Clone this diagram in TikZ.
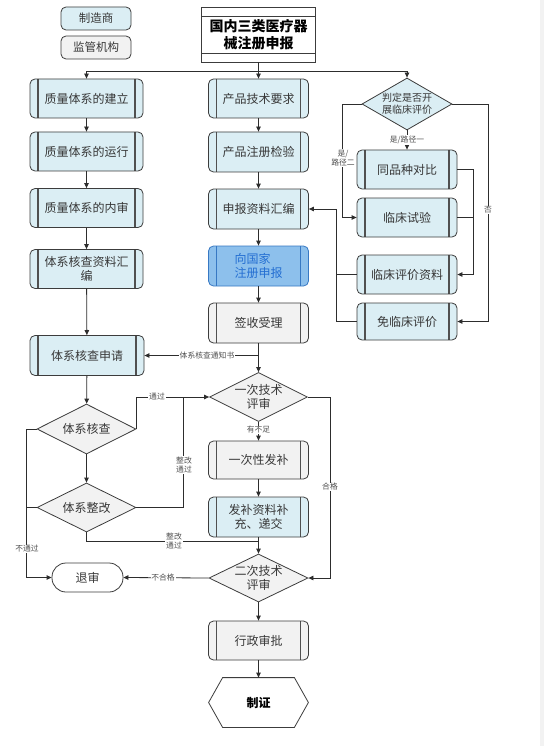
\documentclass[tikz,border=0pt]{standalone}
\usepackage{fontspec}
\setmainfont{Noto Sans CJK SC}
\usetikzlibrary{arrows.meta,shapes.geometric,calc}
\definecolor{lblue}{RGB}{219,238,244}
\definecolor{lgrey}{RGB}{242,242,242}
\definecolor{bdr}{RGB}{60,60,60}
\definecolor{pipec}{RGB}{80,80,80}
\definecolor{txt}{RGB}{55,55,55}
\definecolor{mblue}{RGB}{141,192,236}
\definecolor{dblue}{RGB}{55,120,195}
\definecolor{tblue}{RGB}{35,110,210}
\definecolor{labc}{RGB}{80,80,80}
\definecolor{lnc}{RGB}{45,45,45}
\tikzset{
  bx/.style={draw=bdr, line width=0.8pt, text=txt, font=\fontsize{12}{14.5}\selectfont, align=center, inner sep=1pt},
  proc/.style={bx, rounded corners=5pt, minimum width=100pt, minimum height=39pt,
    path picture={
      \draw[draw=#1, line width=1.4pt, sharp corners]
        ([xshift=8pt]path picture bounding box.north west) -- ([xshift=8pt]path picture bounding box.south west)
        ([xshift=-8pt]path picture bounding box.north east) -- ([xshift=-8pt]path picture bounding box.south east);}},
  proc/.default=pipec,
  pblue/.style={proc, fill=lblue},
  pgrey/.style={proc, fill=lgrey},
  pdeep/.style={proc=dblue, fill=mblue, draw=dblue, text=tblue},
  dia/.style={bx, diamond, inner sep=-9pt, minimum width=99pt, minimum height=49pt, fill=lgrey},
  small/.style={bx, rounded corners=5pt, minimum width=70pt, minimum height=23pt, font=\fontsize{11.5}{13}\selectfont},
  ttl/.style={draw=bdr, line width=0.9pt, minimum width=114pt, minimum height=55pt, align=center, text=black,
    font=\fontsize{14}{17}\selectfont\bfseries,
    path picture={
      \draw[bdr, line width=0.8pt]
        ([yshift=-9pt]path picture bounding box.north west) -- ([yshift=-9pt]path picture bounding box.north east)
        ([yshift=9pt]path picture bounding box.south west) -- ([yshift=9pt]path picture bounding box.south east);}},
  conn/.style={draw=lnc, line width=0.8pt},
  arr/.style={conn, -{Triangle[length=5pt,width=4.5pt]}},
  lab/.style={font=\fontsize{7.8}{8.8}\selectfont, text=labc, fill=white, inner sep=0.8pt, align=center},
}
\begin{document}
\begin{tikzpicture}[x=1pt,y=-1pt]
\useasboundingbox (0,0) rectangle (544,746);
\fill[white] (0,0) rectangle (544,746);
\fill[gray!10] (540,0) rectangle (544,746);

% legend
\node[small, fill=lblue] (leg1) at (96,18.5) {制造商};
\node[small, fill=lgrey] (leg2) at (96,47.5) {监管机构};

% title
\node[ttl] (title) at (258.5,34.5) {国内三类医疗器\\械注册申报};

% left column
\node[pblue, minimum width=113pt] (L1) at (86.5,98.5) {质量体系的建立};
\node[pblue, minimum width=113pt] (L2) at (86.5,151.5) {质量体系的运行};
\node[pblue, minimum width=113pt] (L3) at (86.5,208) {质量体系的内审};
\node[pblue, minimum width=113pt] (L4) at (86.5,269) {体系核查资料汇\\编};
\node[pblue, minimum width=114pt, minimum height=40pt] (L5) at (87,355.5) {体系核查申请};
\node[dia, minimum height=50pt] (LD1) at (86.5,429) {体系核查};
\node[dia] (LD2) at (86.5,507.5) {体系整改};
\node[bx, fill=white, rounded corners=14pt, minimum width=71pt, minimum height=29pt] (T) at (87.5,577.5) {退审};

% middle column
\node[pblue] (M1) at (258.5,98.5) {产品技术要求};
\node[pblue, minimum height=40pt] (M2) at (258.5,152) {产品注册检验};
\node[pblue, minimum height=40pt] (M3) at (258.5,209) {申报资料汇编};
\node[pdeep, minimum height=40pt, align=left] (M4) at (258.5,266) {向国家\\注册申报};
\node[pgrey, minimum height=40pt] (M5) at (258.5,323) {签收受理};
\node[dia, minimum width=98pt] (D1) at (258.5,397) {一次技术\\评审};
\node[pgrey, minimum height=38pt] (M6) at (258.5,460) {一次性发补};
\node[pblue, minimum height=40pt] (M7) at (258.5,517) {发补资料补\\充、递交};
\node[dia, minimum height=48pt] (D2) at (258.5,578) {二次技术\\评审};
\node[pgrey] (M8) at (258.5,640.5) {行政审批};
\node[bx, draw=none, minimum width=99pt, minimum height=49pt, text=black,
      font=\fontsize{12}{14}\selectfont\bfseries] (H) at (258.5,702.5) {制证};
\draw[bdr, line width=0.8pt] (H.west) -- ([xshift=14pt]H.north west) -- ([xshift=-14pt]H.north east)
   -- (H.east) -- ([xshift=-14pt]H.south east) -- ([xshift=14pt]H.south west) -- cycle;

% right column
\node[dia, fill=lblue, minimum width=90pt, minimum height=52pt, font=\fontsize{10}{12}\selectfont] (RD) at (407,104) {判定是否开\\展临床评价};
\node[pblue] (R1) at (407,169.5) {同品种对比};
\node[pblue] (R2) at (407,217.5) {临床试验};
\node[pblue] (R3) at (407,274.5) {临床评价资料};
\node[pblue, minimum height=37pt] (R4) at (407,321.5) {免临床评价};

% connectors
\coordinate (j0) at (258.5,71);
\coordinate (jm) at (258.5,541);
\draw[arr] (title.south) -- (M1.north);
\draw[arr] (j0) -| (L1.north);
\draw[arr] (j0) -| (RD.north);

\draw[arr] (L1) -- (L2);
\draw[arr] (L2) -- (L3);
\draw[arr] (L3) -- (L4);
\draw[arr] (L4) -- (L5);
\draw[arr] (L5) -- (LD1);
\draw[arr] (LD1) -- (LD2);

\draw[arr] (M1) -- (M2);
\draw[arr] (M2) -- (M3);
\draw[arr] (M3) -- (M4);
\draw[arr] (M4) -- (M5);
\draw[arr] (M5) -- (D1);
\draw[arr] (M5.south |- L5.east) -- (L5.east);
\draw[arr] (D1) -- (M6);
\draw[arr] (M6) -- (M7);
\draw[arr] (M7) -- (D2);
\draw[arr] (D2) -- (M8);
\draw[arr] (M8) -- (H);
\draw[arr] (D1.east) -| ($(D2.east)+(22,0)$) -- (D2.east);
\draw[arr] (D2.west) -- (T.east);

\draw[arr] (RD) -- (R1);
\draw[arr] (RD.west) -| ($(R2.west)+(-14,0)$) -- (R2.west);
\draw[arr] (RD.east) -| ($(R4.east)+(31,0)$) -- (R4.east);
\draw[arr] (R1.east) -| ($(R3.east)+(16,0)$) -- (R3.east);
\draw[conn] (R2.east) -- ++(16,0);
\draw[arr] (R4.west) -| ($(M3.east)+(27.5,0)$) -- (M3.east);
\draw[conn] (R3.west) -- ++(-21,0);

\draw[arr] (LD1.east) |- (D1.west);
\draw[conn] (LD2.east) -| ($(D1.west)+(-25.5,0)$);
\draw[conn] (LD2.south) |- (jm);
\draw[arr] (LD1.west) -| ($(T.west)+(-25,0)$) -- (T.west);
\draw[conn] (LD2.west) -- ++(-10,0);

% labels
\node[lab] (lb1) at (207,355.5) {体系核查通知书};
\node[lab] (lb2) at (407,140) {是/路径一};
\node[lab] (lb3) at (343,158) {是/\\路径二};
\node[lab] (lb4) at (488,210) {否};
\node[lab] (lb5) at (258.5,430) {有不足};
\node[lab] (lb6) at (330,487) {合格};
\node[lab] (lb7) at (157,397) {通过};
\node[lab] (lb8) at (184,465) {整改\\通过};
\node[lab] (lb9) at (174,541) {整改\\通过};
\node[lab] (lb10) at (27,549) {不通过};
\node[lab] (lb11) at (163,578) {不合格};
\end{tikzpicture}
\end{document}
